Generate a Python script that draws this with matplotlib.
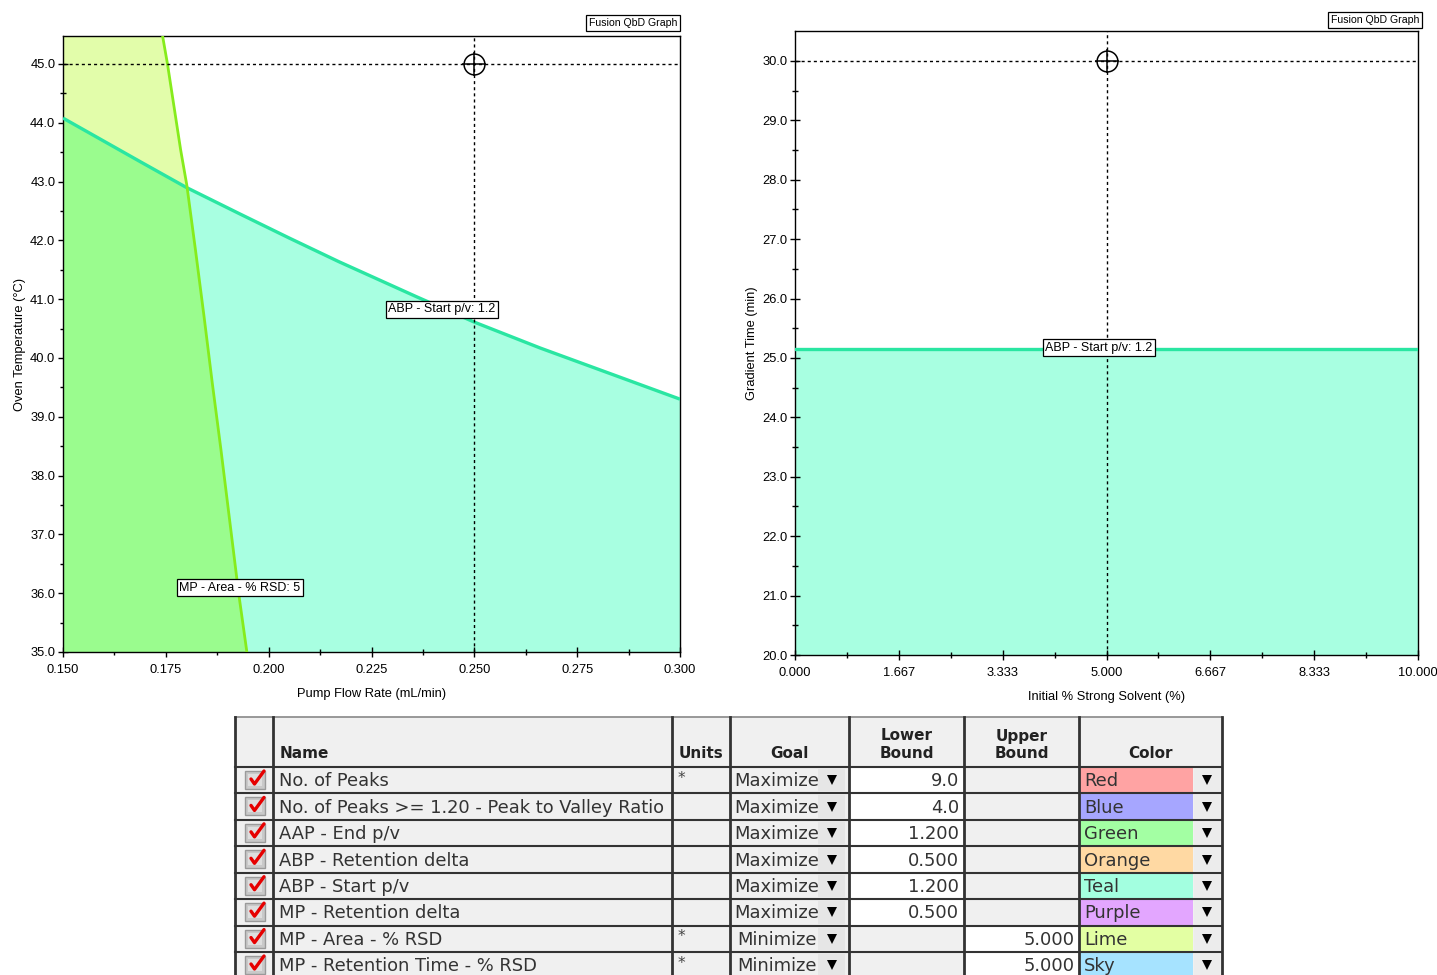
import matplotlib
matplotlib.use("Agg")
import matplotlib.pyplot as plt
import numpy as np
from matplotlib.patches import Rectangle, Polygon
from matplotlib.ticker import FixedLocator, FormatStrFormatter, MultipleLocator

# ---------------- data ----------------
# Left design space: Pump Flow Rate vs Oven Temperature
teal_x = [0.150, 0.169, 0.180, 0.193, 0.205, 0.217, 0.236, 0.250, 0.266, 0.300]
teal_y = [44.08, 43.33, 42.90, 42.45, 42.04, 41.64, 41.04, 40.61, 40.17, 39.30]
lime_y = [35.00, 36.00, 38.44, 39.57, 40.70, 41.84, 42.94, 43.54, 45.00, 45.48]
lime_x = [0.1947, 0.1927, 0.1884, 0.1863, 0.1843, 0.1822, 0.1801, 0.1786, 0.1754, 0.1742]
left_point = (0.250, 45.0)

# Right design space: Initial % Strong Solvent vs Gradient Time
right_teal_y = 25.15
right_point = (5.0, 30.0)

# Results table
row_names = ["No. of Peaks", "No. of Peaks >= 1.20 - Peak to Valley Ratio", "AAP - End p/v",
             "ABP - Retention delta", "ABP - Start p/v", "MP - Retention delta",
             "MP - Area - % RSD", "MP - Retention Time - % RSD"]
row_units = ["*", "", "", "", "", "", "*", "*"]
row_goals = ["Maximize"] * 6 + ["Minimize"] * 2
row_lower = ["9.0", "4.0", "1.200", "0.500", "1.200", "0.500", "", ""]
row_upper = ["", "", "", "", "", "", "5.000", "5.000"]
row_color_names = ["Red", "Blue", "Green", "Orange", "Teal", "Purple", "Lime", "Sky"]
row_color_fills = ["#ffa3a3", "#a6a6ff", "#a3ffa3", "#ffd9a3", "#a3ffe0", "#e3a6ff", "#e3ffa3", "#a6e3ff"]
header_labels = ["", "Name", "Units", "Goal", "Lower\nBound", "Upper\nBound", "Color"]

# ---------------- style ----------------
W, H = 1437, 975
NARROW = ["Liberation Sans Narrow", "Liberation Sans", "DejaVu Sans"]
plt.rcParams["font.family"] = NARROW

C_LIME_FILL = "#e2fdaa"
C_TEAL_FILL = "#a8ffe1"
C_BOTH_FILL = "#9afc8e"
C_LIME_LINE = "#86ec1c"
C_TEAL_LINE = "#2ae6a2"

fig = plt.figure(figsize=(W / 100, H / 100), dpi=100)


def style_axes(ax):
    for s in ax.spines.values():
        s.set_color("black")
        s.set_linewidth(1.0)
    ax.tick_params(which="major", direction="inout", length=7, width=1, labelsize=9.3)
    ax.tick_params(axis="x", which="major", pad=5)
    ax.tick_params(axis="y", which="major", pad=2)
    ax.tick_params(which="minor", direction="inout", length=5, width=1)


def crosshair(ax, pt):
    kw = dict(color="black", lw=1.0, ls=(0, (2.2, 2.2)), zorder=5)
    ax.axvline(pt[0], **kw)
    ax.axhline(pt[1], **kw)
    ax.plot([pt[0]], [pt[1]], marker="o", ms=15, mfc="none", mec="black", mew=1.1, zorder=6)
    ax.plot([pt[0]], [pt[1]], marker="+", ms=17, mec="black", mew=1.1, zorder=6)


def region_label(ax, x, y, text):
    ax.text(x, y, text, ha="center", va="center", fontsize=9, zorder=8,
            bbox=dict(boxstyle="square,pad=0.2", fc="white", ec="black", lw=0.9))


# ---------------- left plot ----------------
axL = fig.add_axes([63 / W, 1 - 652 / H, 617 / W, 616 / H])
x0, x1 = 0.150, 0.300
y0, y1 = 35.0, 45.476
axL.set_xlim(x0, x1)
axL.set_ylim(y0, y1)

teal_poly = Polygon(list(zip(teal_x, teal_y)) + [(x1, y0), (x0, y0)], closed=True,
                    fc=C_TEAL_FILL, ec="none", zorder=1)
axL.add_patch(teal_poly)
lime_pts = list(zip(lime_x, lime_y)) + [(x0, y1), (x0, y0)]
axL.add_patch(Polygon(lime_pts, closed=True, fc=C_LIME_FILL, ec="none", zorder=1))
both = Polygon(lime_pts, closed=True, fc=C_BOTH_FILL, ec="none", zorder=2)
axL.add_patch(both)
both.set_clip_path(teal_poly)

axL.plot(teal_x, teal_y, color=C_TEAL_LINE, lw=2.4, zorder=3, solid_capstyle="butt",
         solid_joinstyle="round")
axL.plot(lime_x, lime_y, color=C_LIME_LINE, lw=2.0, zorder=3, solid_capstyle="butt",
         solid_joinstyle="round")

crosshair(axL, left_point)
region_label(axL, 0.2421, 40.83, "ABP - Start p/v: 1.2")
region_label(axL, 0.1930, 36.09, "MP - Area - % RSD: 5")

axL.xaxis.set_major_locator(MultipleLocator(0.025))
axL.xaxis.set_minor_locator(MultipleLocator(0.0125))
axL.xaxis.set_major_formatter(FormatStrFormatter("%.3f"))
axL.yaxis.set_major_locator(FixedLocator(np.arange(35.0, 45.01, 1.0)))
axL.yaxis.set_minor_locator(FixedLocator(np.arange(35.5, 45.01, 1.0)))
axL.yaxis.set_major_formatter(FormatStrFormatter("%.1f"))
axL.set_xlabel("Pump Flow Rate (mL/min)", fontsize=9.3, labelpad=9)
axL.set_ylabel("Oven Temperature (°C)", fontsize=9.3, labelpad=3)
style_axes(axL)

# ---------------- right plot ----------------
axR = fig.add_axes([795 / W, 1 - 655 / H, 623 / W, 624 / H])
axR.set_xlim(0, 10)
axR.set_ylim(20.0, 30.505)
axR.fill_between([0, 10], [20.0, 20.0], [right_teal_y, right_teal_y], color=C_TEAL_FILL, lw=0, zorder=1)
axR.plot([0, 10], [right_teal_y, right_teal_y], color=C_TEAL_LINE, lw=2.4, zorder=3)
crosshair(axR, right_point)
region_label(axR, 4.88, 25.17, "ABP - Start p/v: 1.2")

axR.xaxis.set_major_locator(FixedLocator([10 * i / 6 for i in range(7)]))
axR.xaxis.set_minor_locator(FixedLocator([10 * (i + 0.5) / 6 for i in range(6)]))
axR.xaxis.set_major_formatter(FormatStrFormatter("%.3f"))
axR.yaxis.set_major_locator(FixedLocator(np.arange(20.0, 30.01, 1.0)))
axR.yaxis.set_minor_locator(FixedLocator(np.arange(20.5, 30.01, 1.0)))
axR.yaxis.set_major_formatter(FormatStrFormatter("%.1f"))
axR.set_xlabel("Initial % Strong Solvent (%)", fontsize=9.3, labelpad=9)
axR.set_ylabel("Gradient Time (min)", fontsize=9.3, labelpad=3)
style_axes(axR)

for cx, cy in [(633, 23), (1375, 20)]:
    fig.text(cx / W, 1 - cy / H, "Fusion QbD Graph", ha="center", va="center", fontsize=7.6,
             bbox=dict(boxstyle="square,pad=0.25", fc="white", ec="black", lw=0.9))

# ---------------- table ----------------
axT = fig.add_axes([0, 0, 1, 1], zorder=-1)
axT.set_xlim(0, W)
axT.set_ylim(H, 0)
axT.axis("off")

TF = ["DejaVu Sans"]
GRAY = "#f0f0f0"
LINE = "#333333"
cols = [235, 273, 672, 730, 849, 964, 1079, 1222]
top, head_bot = 717, 767
row_h = 26.43
n = len(row_names)
row_tops = [head_bot + i * row_h for i in range(n)]
bottom = head_bot + n * row_h

axT.add_patch(Rectangle((cols[0], top), cols[-1] - cols[0], bottom - top, fc=GRAY, ec="none"))

# header
head_centers = [(cols[i] + cols[i + 1]) / 2 for i in range(len(cols) - 1)]
for i, lab in enumerate(header_labels):
    if not lab:
        continue
    if lab == "Name":
        axT.text(cols[1] + 7, 754, lab, ha="left", va="center", fontsize=11, weight="bold",
                 family=TF, color="#222222")
    else:
        axT.text(head_centers[i], 754 if "\n" not in lab else 745, lab, ha="center", va="center",
                 fontsize=11, weight="bold", family=TF, color="#222222", linespacing=1.25)

for r in range(n):
    yt = row_tops[r]
    yc = yt + row_h / 2 + 1
    # checkbox with red tick
    axT.add_patch(Rectangle((245, yt + 4), 20, 18, fc="#c9c9c9", ec="#9a9a9a", lw=1.0))
    axT.add_patch(Rectangle((248, yt + 7), 14, 12, fc="#dedede", ec="none"))
    axT.plot([251, 254.5, 264], [yt + 12, yt + 17, yt + 4], color="#e60000", lw=2.4,
             solid_capstyle="round", solid_joinstyle="round")
    # name / units
    axT.text(cols[1] + 6, yc, row_names[r], ha="left", va="center", fontsize=12.9,
             family=TF, color="#333333")
    if row_units[r]:
        axT.text(cols[2] + 6, yt + 11, row_units[r], ha="left", va="center", fontsize=11,
                 family=TF, color="#444444")
    # goal with drop-down
    axT.add_patch(Rectangle((818, yt + 2), 27, row_h - 4, fc="#e6e6e6", ec="none"))
    axT.plot([832], [yt + row_h / 2], marker="v", ms=7.5, color="black", mew=0)
    axT.text(777, yc, row_goals[r], ha="center", va="center", fontsize=12.9,
             family=TF, color="#333333")
    # bounds
    if row_lower[r]:
        axT.add_patch(Rectangle((cols[4] + 1, yt + 1), cols[5] - cols[4] - 2, row_h - 2,
                                fc="white", ec="none"))
        axT.text(cols[5] - 5, yc, row_lower[r], ha="right", va="center", fontsize=12.9,
                 family=TF, color="#333333")
    if row_upper[r]:
        axT.add_patch(Rectangle((cols[5] + 1, yt + 1), cols[6] - cols[5] - 2, row_h - 2,
                                fc="white", ec="none"))
        axT.text(cols[6] - 4, yc, row_upper[r], ha="right", va="center", fontsize=12.9,
                 family=TF, color="#333333")
    # colour swatch with drop-down
    axT.add_patch(Rectangle((cols[6] + 1, yt + 1), 1193 - cols[6] - 1, row_h - 2,
                            fc=row_color_fills[r], ec="none"))
    axT.add_patch(Rectangle((1194, yt + 2), 26, row_h - 4, fc="#ececec", ec="none"))
    axT.plot([1207], [yt + row_h / 2], marker="v", ms=7.5, color="black", mew=0)
    axT.text(cols[6] + 5, yc, row_color_names[r], ha="left", va="center", fontsize=12.9,
             family=TF, color="#333333")

# grid lines
axT.plot([cols[0], cols[-1]], [top, top], color="#888888", lw=1.2)
for yl in [head_bot] + row_tops[1:]:
    axT.plot([cols[0], cols[-1]], [yl, yl], color=LINE, lw=1.5)
for xc in cols:
    axT.plot([xc, xc], [top, bottom], color=LINE, lw=2.0)

fig.savefig("out.png", dpi=100, facecolor="white")
